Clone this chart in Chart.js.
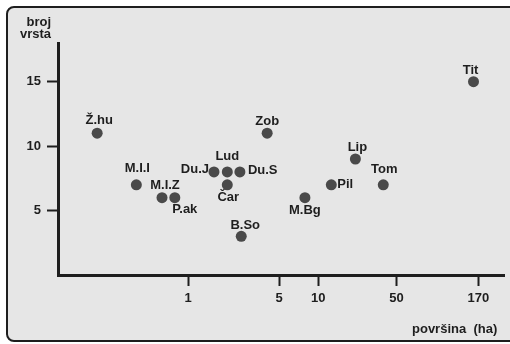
<!DOCTYPE html>
<html lang="hr">
<head>
    <meta charset="UTF-8">
    <title>Broj vrsta i površina</title>
    <script src="https://cdn.jsdelivr.net/npm/chart.js@4.4.1/dist/chart.umd.min.js"></script>
    <style>
        body { margin: 0; background: #fff; width: 510px; height: 344px; overflow: hidden; position: relative; }
        #frame { position: absolute; left: 6px; top: 6px; width: 540px; height: 336px; box-sizing: border-box;
                 border: 2px solid #1e1e1e; border-radius: 8px; background: #e6e6e6; }
        #wrap { position: absolute; left: 0; top: 0; width: 510px; height: 344px; }
    </style>
</head>
<body>
    <div id="frame"></div>
    <div id="wrap"><canvas id="chart" width="510" height="344"></canvas></div>

    <script>
        // data
        const names = ['Ž.hu', 'M.I.I', 'M.I.Z', 'P.ak', 'Du.J', 'Lud', 'Du.S', 'Čar', 'B.So', 'Zob', 'M.Bg', 'Pil', 'Lip', 'Tom', 'Tit'];
        const area = [0.2, 0.4, 0.63, 0.79, 1.58, 2.0, 2.5, 2.0, 2.56, 4.05, 7.9, 12.6, 19.3, 31.6, 156];
        const species = [11, 7, 6, 6, 8, 8, 8, 7, 3, 11, 6, 7, 9, 7, 15];

        // the original axis puts "50" a bit left of the true log position
        const xTickValues = [1, 5, 10, 40, 170];
        const xTickLabels = ['1', '5', '10', '50', '170'];
        const yTickValues = [5, 10, 15];

        // where each label sits relative to its dot
        const labelPlace = {
            'Ž.hu': [2, -13, 'center'], 'M.I.I': [1, -16, 'center'], 'M.I.Z': [3, -12, 'center'],
            'P.ak': [10, 12, 'center'], 'Du.J': [-5, -2, 'right'], 'Lud': [0, -15, 'center'],
            'Du.S': [8, -1, 'left'], 'Čar': [1, 13, 'center'], 'B.So': [4, -11, 'center'],
            'Zob': [0, -12, 'center'], 'M.Bg': [0, 13, 'center'], 'Pil': [6, 0, 'left'],
            'Lip': [2, -12, 'center'], 'Tom': [1, -15, 'center'], 'Tit': [-3, -11, 'center']
        };

        const ink = '#1e1e1e';
        const font = 'bold 13px "Liberation Sans", Arial, sans-serif';

        const labelsPlugin = {
            id: 'labels',
            afterDatasetsDraw(chart) {
                const ctx = chart.ctx;
                const meta = chart.getDatasetMeta(0);
                ctx.save();
                ctx.font = font;
                ctx.fillStyle = ink;
                ctx.textBaseline = 'middle';
                meta.data.forEach((pt, i) => {
                    const p = labelPlace[names[i]];
                    ctx.textAlign = p[2];
                    ctx.fillText(names[i], pt.x + p[0], pt.y + p[1]);
                });
                // axis titles
                ctx.textAlign = 'right';
                ctx.fillText('broj', 51, 22);
                ctx.fillText('vrsta', 51, 34);
                ctx.textAlign = 'left';
                ctx.fillText('površina  (ha)', 412, 329);
                ctx.restore();
            }
        };

        new Chart(document.getElementById('chart'), {
            type: 'scatter',
            data: {
                datasets: [{
                    data: area.map((a, i) => ({ x: a, y: species[i] })),
                    backgroundColor: '#4a4a4a',
                    borderWidth: 0,
                    pointRadius: 5.5
                }]
            },
            options: {
                responsive: false,
                animation: false,
                layout: { padding: { top: 43, left: 0, right: 0, bottom: 0 } },
                plugins: { legend: { display: false }, tooltip: { enabled: false } },
                scales: {
                    x: {
                        type: 'logarithmic',
                        min: 0.1,
                        max: 270,
                        afterBuildTicks: s => { s.ticks = xTickValues.map(v => ({ value: v })); },
                        afterFit: s => { s.height = 69; },
                        ticks: {
                            autoSkip: false,
                            maxRotation: 0,
                            padding: 5,
                            color: ink,
                            font: { family: '"Liberation Sans", Arial, sans-serif', size: 13, weight: 'bold' },
                            callback: v => xTickLabels[xTickValues.indexOf(v)]
                        },
                        grid: { drawOnChartArea: false, tickLength: 11, tickWidth: 2, color: ink },
                        border: { display: true, color: ink, width: 3 }
                    },
                    y: {
                        min: 0,
                        max: 18,
                        afterBuildTicks: s => { s.ticks = yTickValues.map(v => ({ value: v })); },
                        afterFit: s => { s.width = 58; },
                        ticks: {
                            padding: 6,
                            color: ink,
                            font: { family: '"Liberation Sans", Arial, sans-serif', size: 13, weight: 'bold' }
                        },
                        grid: { drawOnChartArea: false, tickLength: 11, tickWidth: 2, color: ink },
                        border: { display: true, color: ink, width: 3 }
                    }
                }
            },
            plugins: [labelsPlugin]
        });
    </script>
</body>
</html>
